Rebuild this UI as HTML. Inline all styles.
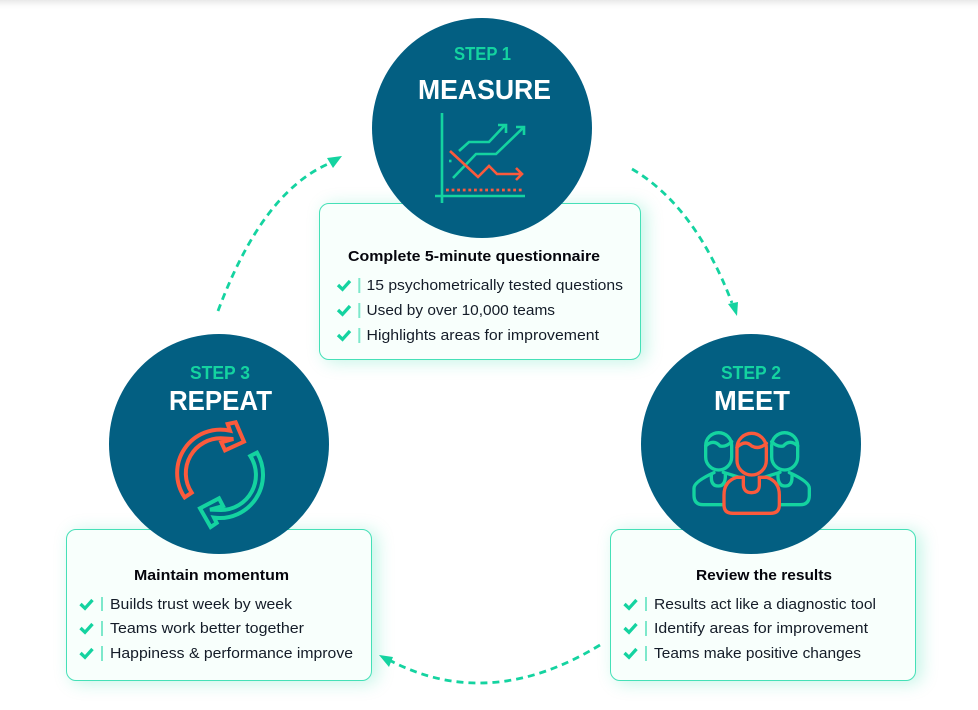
<!DOCTYPE html>
<html>
<head>
<meta charset="utf-8">
<style>
html,body{margin:0;padding:0;background:#fff;}
body{width:978px;height:710px;position:relative;overflow:hidden;font-family:"Liberation Sans",sans-serif;}
.top{position:absolute;left:0;top:0;width:978px;height:9px;background:linear-gradient(#e9e9e9,#fafafa 60%,#fff);}
.b{position:absolute;box-sizing:border-box;background:#f8fffc;border:1.5px solid #45e0b7;border-radius:10px;box-shadow:5px 2px 17px rgba(20,211,160,.26);}
svg{position:absolute;left:0;top:0;}
text{font-family:"Liberation Sans",sans-serif;}
.t{font-size:15px;font-weight:bold;fill:#05050c;}
.i{font-size:15px;fill:#141c28;}
.s{font-size:18px;font-weight:bold;fill:#14d3a0;}
.h{font-size:28px;font-weight:bold;fill:#fff;}
</style>
</head>
<body>
<div class="top"></div>
<div class="b" style="left:319px;top:203px;width:322px;height:157px"></div>
<div class="b" style="left:66px;top:529px;width:306px;height:152px"></div>
<div class="b" style="left:610px;top:529px;width:306px;height:152px"></div>
<svg width="978" height="710" viewBox="0 0 978 710">
<defs>
<g id="ck"><path d="M0 5.500 L4.500 9.800 L12 1.500" fill="none" stroke="#14d3a0" stroke-width="3.300"/></g>
</defs>

<!-- connectors -->
<g fill="none" stroke="#14d3a0" stroke-width="2.800" stroke-dasharray="7 5">
<path d="M218 311 Q262 193 328 164"/>
<path d="M632 169 Q695 206 732 303"/>
<path d="M600 645 Q490 712 391 661"/>
</g>
<g fill="#14d3a0">
<polygon points="342,156 327,158 333,168"/>
<polygon points="737,316 728,304 738,302"/>
<polygon points="379,655 393,657 389,667"/>
</g>

<!-- circles -->
<circle cx="482" cy="128" r="110" fill="#035f82"/>
<circle cx="219" cy="444" r="110" fill="#035f82"/>
<circle cx="751" cy="444" r="110" fill="#035f82"/>

<!-- headings -->
<text class="s" x="454" y="60" textLength="57" lengthAdjust="spacingAndGlyphs">STEP 1</text>
<text class="h" x="418" y="99" textLength="133" lengthAdjust="spacingAndGlyphs">MEASURE</text>
<text class="s" x="190" y="379" textLength="60" lengthAdjust="spacingAndGlyphs">STEP 3</text>
<text class="h" x="169" y="410" textLength="103" lengthAdjust="spacingAndGlyphs">REPEAT</text>
<text class="s" x="721" y="379" textLength="60" lengthAdjust="spacingAndGlyphs">STEP 2</text>
<text class="h" x="714" y="410" textLength="76" lengthAdjust="spacingAndGlyphs">MEET</text>

<!-- measure icon -->
<g fill="none" stroke-width="2.600">
<g stroke="#14d3a0">
<path d="M442 113 V203 M435 196 H525"/>
<path d="M459 151 L469 142 H489 L505 125 M498 125 H506 V133"/>
<path d="M453 178 L476 154 H496 L524 127 M516 127 H524 V135"/>
<path d="M449 161 L451.500 161"/>
</g>
<g stroke="#fb5a3c">
<path d="M450 151 L478 177 L489 166 L497 174 H522 M516 168 L522 174 L516 180"/>
<path d="M446 190 H523" stroke-width="2.800" stroke-dasharray="2.800 2.800"/>
</g>
</g>

<!-- repeat icon -->
<g transform="translate(110 340) scale(.33333)" fill="none" stroke-width="12" stroke-linejoin="miter">
<path stroke="#fb5a3c" d="M224 472 A130 130 0 0 1 360 272 L353 252 L377 247 L402 305 L345 331 L334 307 L370 297 L338 295 A105 105 0 0 0 245 458 Z"/>
<path stroke="#14d3a0" d="M441 338 A130 130 0 0 1 312 533 L320 549 L302 561 L270 505 L327 475 L339 498 L300 509 L333 510 A105 105 0 0 0 421 348 Z"/>
</g>

<!-- meet icon -->
<g transform="translate(640 340) scale(.33333)" fill="none" stroke-width="10" stroke-linecap="round" stroke-linejoin="round">
<g stroke="#14d3a0">
<rect x="197" y="278" width="78" height="112" rx="39"/>
<path d="M197 318 Q220 296 240 318 Q258 322 275 305"/>
<path d="M250 494 H190 Q162 494 162 466 V445 Q162 425 222 398"/>
<path d="M250 397 L298 412"/>
<path d="M214 402 V412 Q214 438 235 438 Q254 438 256 412 V402"/>
<rect x="395" y="278" width="78" height="112" rx="39"/>
<path d="M395 305 Q412 322 430 318 Q450 296 473 318"/>
<path d="M420 494 H480 Q508 494 508 466 V445 Q508 425 448 398"/>
<path d="M420 397 L372 412"/>
<path d="M414 402 V412 Q416 438 435 438 Q456 438 456 412 V402"/>
</g>
<g stroke="#fb5a3c">
<rect x="291" y="280" width="88" height="125" rx="44"/>
<path d="M291 322 Q315 298 335 318 Q358 330 379 310"/>
<path d="M310 412 H290 Q252 424 252 465 V495 Q252 520 278 520 H392 Q418 520 418 495 V465 Q418 424 380 412 H358"/>
<path d="M310 412 V435 Q312 458 334 458 Q358 458 358 435 V412"/>
</g>
</g>

<!-- top box text -->
<text class="t" x="348" y="261" textLength="252" lengthAdjust="spacingAndGlyphs">Complete 5-minute questionnaire</text>
<use href="#ck" x="338" y="279.500"/><use href="#ck" x="338" y="304.500"/><use href="#ck" x="338" y="329.500"/>
<g fill="#7de8cb"><rect x="358.300" y="278" width="2" height="15"/><rect x="358.300" y="303" width="2" height="15"/><rect x="358.300" y="328" width="2" height="15"/></g>
<text class="i" x="366.500" y="290" textLength="256.500" lengthAdjust="spacingAndGlyphs">15 psychometrically tested questions</text>
<text class="i" x="366.500" y="315" textLength="188.500" lengthAdjust="spacingAndGlyphs">Used by over 10,000 teams</text>
<text class="i" x="366.500" y="340" textLength="232.500" lengthAdjust="spacingAndGlyphs">Highlights areas for improvement</text>

<!-- left box text -->
<text class="t" x="134" y="580" textLength="155" lengthAdjust="spacingAndGlyphs">Maintain momentum</text>
<use href="#ck" x="80.500" y="598.500"/><use href="#ck" x="80.500" y="622.500"/><use href="#ck" x="80.500" y="647.500"/>
<g fill="#7de8cb"><rect x="101" y="597" width="2" height="14"/><rect x="101" y="621" width="2" height="15"/><rect x="101" y="646" width="2" height="15"/></g>
<text class="i" x="110" y="609" textLength="182" lengthAdjust="spacingAndGlyphs">Builds trust week by week</text>
<text class="i" x="110" y="633" textLength="194" lengthAdjust="spacingAndGlyphs">Teams work better together</text>
<text class="i" x="110" y="658" textLength="243" lengthAdjust="spacingAndGlyphs">Happiness &amp; performance improve</text>

<!-- right box text -->
<text class="t" x="696" y="580" textLength="136" lengthAdjust="spacingAndGlyphs">Review the results</text>
<use href="#ck" x="624.500" y="598.500"/><use href="#ck" x="624.500" y="622.500"/><use href="#ck" x="624.500" y="647.500"/>
<g fill="#7de8cb"><rect x="645" y="597" width="2" height="14"/><rect x="645" y="621" width="2" height="15"/><rect x="645" y="646" width="2" height="15"/></g>
<text class="i" x="654" y="609" textLength="222" lengthAdjust="spacingAndGlyphs">Results act like a diagnostic tool</text>
<text class="i" x="654" y="633" textLength="214" lengthAdjust="spacingAndGlyphs">Identify areas for improvement</text>
<text class="i" x="654" y="658" textLength="207" lengthAdjust="spacingAndGlyphs">Teams make positive changes</text>
</svg>
</body>
</html>
